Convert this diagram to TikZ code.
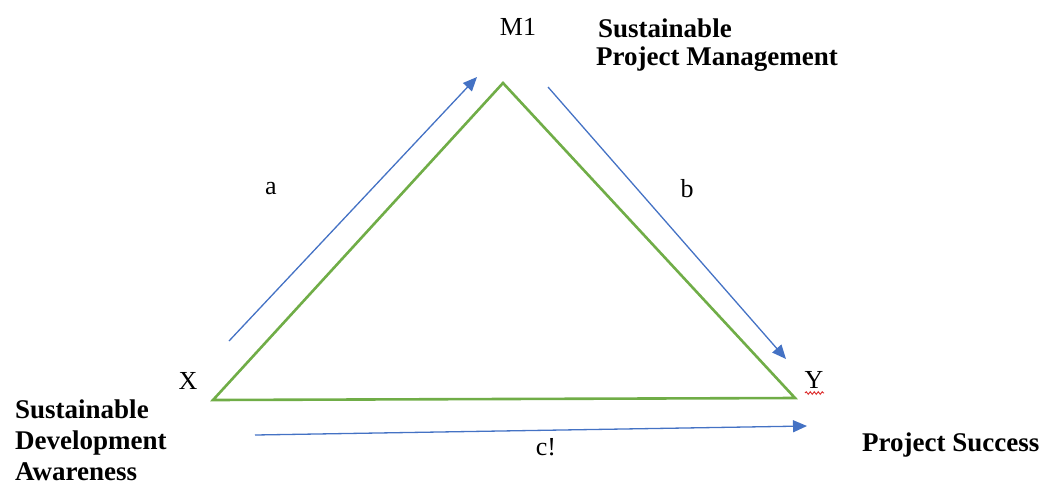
\documentclass[tikz,border=0pt]{standalone}
\usepackage{fontspec}
\setmainfont{Liberation Serif}
\usetikzlibrary{arrows.meta,decorations.pathmorphing}
\definecolor{triGreen}{RGB}{112,173,71}
\definecolor{pathBlue}{RGB}{68,114,196}
\definecolor{spellRed}{RGB}{220,40,40}
\begin{document}
\begin{tikzpicture}[x=1pt,y=-1pt,
  side/.style={draw=triGreen,line width=2.6pt,line join=miter},
  effect/.style={draw=pathBlue,line width=1.3pt,-{Triangle[length=14pt,width=12pt]}},
  lbl/.style={inner sep=0pt,font=\fontsize{26}{31}\selectfont},
  concept/.style={inner sep=0pt,font=\fontsize{27}{31}\selectfont\bfseries,align=left}]
\useasboundingbox (0,0) rectangle (1046,485);
% corners of the mediation triangle
\coordinate (X) at (213,400);
\coordinate (M) at (503,83);
\coordinate (Y) at (795,398);
\draw[side] (X) -- (M) -- (Y) -- cycle;
% path arrows
\coordinate (a0) at (229,341);
\coordinate (a1) at (477,77);
\coordinate (b0) at (548,87);
\coordinate (b1) at (786,359);
\coordinate (c0) at (255,435);
\coordinate (c1) at (807,426);
\draw[effect] (a0) -- (a1);
\draw[effect] (b0) -- (b1);
\draw[effect] (c0) -- (c1);
% variable labels
\node[lbl] (m1) at (518,27) {M1};
\node[lbl] (xl) at (188,381) {X};
\node[lbl] (yl) at (814,380) {Y};
\draw[spellRed,line width=0.9pt,decorate,decoration={snake,amplitude=1.3pt,segment length=4pt}]
  ([xshift=-9pt,yshift=-13pt]yl.center) -- ([xshift=10pt,yshift=-13pt]yl.center);
\node[lbl] (al) at (271,189) {a};
\node[lbl] (bl) at (687,189) {b};
\node[lbl] (cl) at (546,447) {c!};
% concept names
\node[concept,anchor=west] (smp) at (598,28) {Sustainable};
\node[concept,anchor=west] (pm) at (596,59) {Project Management};
\node[concept,anchor=west] (sda) at (15,440) {Sustainable\\Development\\Awareness};
\node[concept,anchor=west] (ps) at (862,445) {Project Success};
\end{tikzpicture}
\end{document}
